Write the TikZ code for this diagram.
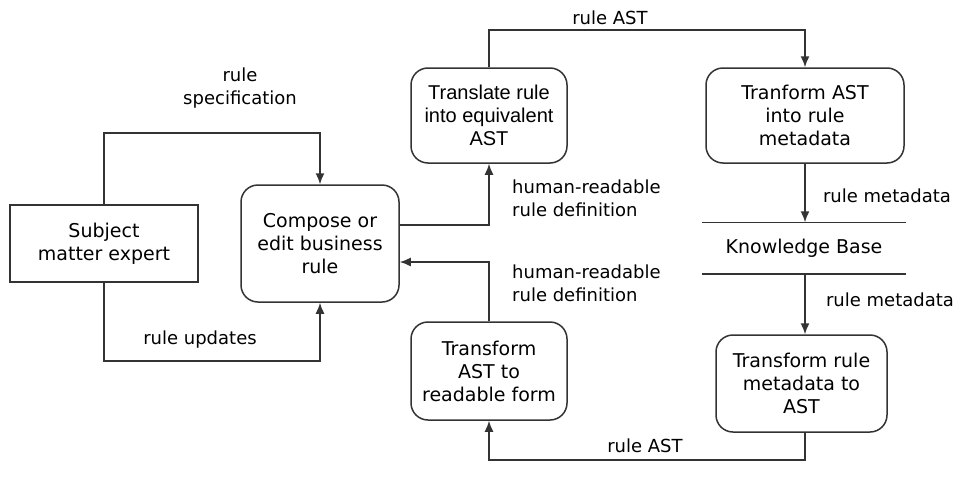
\documentclass[tikz,border=0pt]{standalone}
\usepackage{fontspec}
\setmainfont{DejaVu Sans}
\newfontfamily\arialf{Liberation Sans}
\usetikzlibrary{arrows.meta}
\begin{document}
\begin{tikzpicture}[x=1pt,y=-1pt,
  box/.style={draw=black!80, line width=1.5pt, align=center, inner sep=0pt, font=\fontsize{19}{23}\selectfont},
  rbox/.style={box, rounded corners=17pt},
  lbl/.style={font=\fontsize{18}{23}\selectfont, align=center, inner sep=0pt},
  flow/.style={draw=black!80, line width=1.5pt, -{Latex[length=11pt,width=9pt]}},
  plain/.style={draw=black!80, line width=1.5pt}]
\useasboundingbox (0,0) rectangle (958,479);
\fill[white] (0,0) rectangle (958,479);

\node[box, minimum width=188pt, minimum height=77pt] (sme) at (104,243.5) {Subject\\matter expert};
\node[rbox, minimum width=158pt, minimum height=117pt] (compose) at (320,243.5) {Compose or\\edit business\\rule};
\node[rbox, minimum width=156pt, minimum height=95pt, font=\arialf\fontsize{20}{23}\selectfont] (translate) at (489,115.5) {Translate rule\\into equivalent\\AST};
\node[rbox, minimum width=198pt, minimum height=95pt] (tast) at (805,115.5) {Tranform AST\\into rule\\metadata};
\node[box, draw=none, minimum width=202pt, minimum height=50pt] (kb) at (804,248) {Knowledge Base};
\draw[plain] (kb.north west) -- (kb.north east);
\draw[plain] (kb.south west) -- (kb.south east);
\node[rbox, minimum width=171pt, minimum height=97pt] (trm) at (801.5,383.5) {Transform rule\\metadata to\\AST};
\node[rbox, minimum width=156pt, minimum height=98pt] (tar) at (489,371) {Transform\\AST to\\readable form};

\coordinate (kbx) at (805,248);

\draw[flow] (sme.north) -- (sme.north |- 0,133) -| (compose.north);
\draw[flow] (sme.south) -- (sme.south |- 0,361) -| (compose.south);
\draw[flow] (compose.east |- 0,225) -| (translate.south);
\draw[flow] (tar.north) |- (compose.east |- 0,262);
\draw[flow] (translate.north) -- (translate.north |- 0,30) -| (tast.north);
\draw[flow] (tast.south) -- (kbx |- kb.north);
\draw[flow] (kbx |- kb.south) -- (kbx |- trm.north);
\draw[flow] (kbx |- trm.south) -- (kbx |- 0,460) -| (tar.south);

\node[lbl] (l1) at (240,88.5) {rule\\specification};
\node[lbl] (l2) at (200,340) {rule updates};
\node[lbl, align=left, anchor=west] (l3) at (512,198.5) {human-readable\\rule definition};
\node[lbl, align=left, anchor=west] (l4) at (512,283.5) {human-readable\\rule definition};
\node[lbl] (l5) at (610,18) {rule AST};
\node[lbl] (l6) at (887,196) {rule metadata};
\node[lbl] (l7) at (890,300) {rule metadata};
\node[lbl] (l8) at (645,446) {rule AST};
\end{tikzpicture}
\end{document}
